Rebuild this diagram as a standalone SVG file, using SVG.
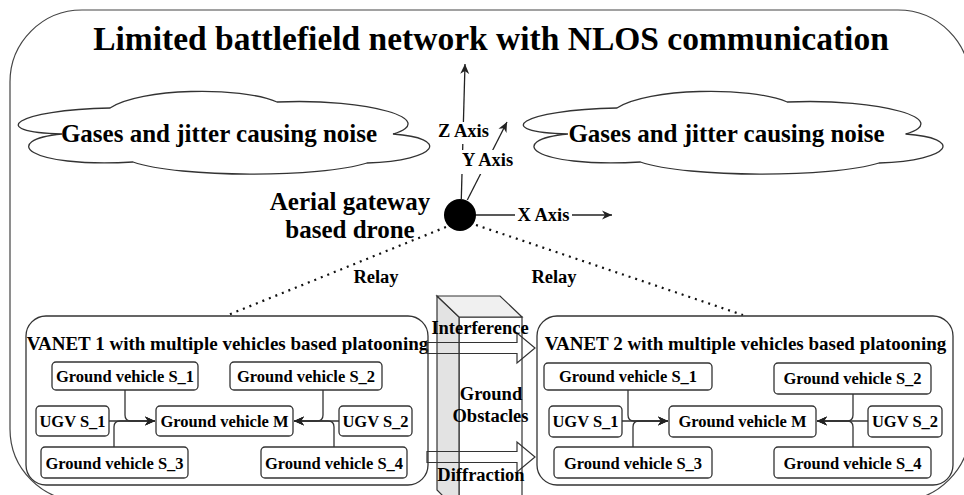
<svg xmlns="http://www.w3.org/2000/svg" width="964" height="495" viewBox="0 0 964 495">
<style>
text{font-family:"Liberation Serif","Times New Roman",serif;font-weight:bold;fill:#000;text-anchor:middle}
.t{font-size:33.5px}
.c{font-size:25px}
.l{font-size:18.5px}
.v{font-size:19px}
.n{font-size:16.5px}
.box{fill:#fff;stroke:#333;stroke-width:1.3}
.vb{fill:#fff;stroke:#333;stroke-width:1.3}
.ln{fill:none;stroke:#333;stroke-width:1.3}
.ax{fill:none;stroke:#222;stroke-width:1.3}
.dot{fill:none;stroke:#111;stroke-width:2.2;stroke-dasharray:2 5}
.bg{fill:#fff}
</style>
<defs>
<marker id="arr" markerUnits="userSpaceOnUse" markerWidth="12" markerHeight="10" refX="10" refY="5" orient="auto">
<path d="M0,0.5 L10,5 L0,9.5 L3,5 Z" fill="#222"/>
</marker>
<path id="cloud" d="M62,134 C-15,132 15,110 110,108 C140,88 240,86 277,102 C370,98 440,120 393,134 C450,138 440,160 367,163 C320,178 180,178 133,162 C25,168 0,140 62,134 Z"/>
</defs>

<g id="frame">
<rect x="10" y="10" width="960" height="491" rx="72" ry="72" fill="#fff" stroke="#444" stroke-width="1.2"/>
</g>

<g id="title"><text class="t" x="491" y="50">Limited battlefield network with NLOS communication</text></g>

<g id="cloud-left">
<use href="#cloud" fill="#fff" stroke="#333" stroke-width="1.3"/>
<text class="c" x="219" y="142">Gases and jitter causing noise</text>
</g>
<g id="cloud-right">
<use href="#cloud" transform="matrix(1.02,0,0,1,504.7,0)" fill="#fff" stroke="#333" stroke-width="1.3"/>
<text class="c" x="726.5" y="142">Gases and jitter causing noise</text>
</g>

<g id="connectors">
<line class="ax" x1="461.3" y1="199" x2="465" y2="64" marker-end="url(#arr)"/>
<line class="ax" x1="467.3" y1="200" x2="507" y2="122" marker-end="url(#arr)"/>
<line class="ax" x1="476" y1="215" x2="612" y2="215" marker-end="url(#arr)"/>
<line class="dot" x1="446" y1="227" x2="228" y2="315"/>
<line class="dot" x1="476" y1="225" x2="743" y2="315"/>
</g>

<g id="axis-labels">
<rect class="bg" x="437" y="122" width="53" height="22"/>
<text class="l" x="463.5" y="137">Z Axis</text>
<rect class="bg" x="460" y="150" width="55" height="24"/>
<text class="l" x="487.5" y="166">Y Axis</text>
<rect class="bg" x="515" y="205" width="57" height="20"/>
<text class="l" x="543.5" y="221">X Axis</text>
</g>

<g id="drone">
<circle cx="460" cy="215" r="16" fill="#000"/>
<text class="c" x="350" y="210">Aerial gateway</text>
<text class="c" x="350" y="238">based drone</text>
</g>

<g id="relay-labels">
<text class="l" x="376" y="283">Relay</text>
<text class="l" x="554" y="283">Relay</text>
</g>

<g id="vanet1">
<rect class="vb" x="26" y="316" width="402" height="169" rx="20"/>
<text class="v" x="227.5" y="350">VANET 1 with multiple vehicles based platooning</text>
</g>
<g id="vanet2">
<rect class="vb" x="537" y="316" width="416" height="169" rx="20"/>
<text class="v" x="745.5" y="350">VANET 2 with multiple vehicles based platooning</text>
</g>

<g id="vanet-connectors">
<path class="ln" d="M125,390 V415 Q125,421 131,421 H155" marker-end="url(#arr)"/>
<path class="ln" d="M109,421 H155" marker-end="url(#arr)"/>
<path class="ln" d="M114,447 V427 Q114,421 120,421 H155" marker-end="url(#arr)"/>
<path class="ln" d="M323,390 V415 Q323,421 317,421 H294" marker-end="url(#arr)"/>
<path class="ln" d="M339,421 H294" marker-end="url(#arr)"/>
<path class="ln" d="M334,447 V427 Q334,421 328,421 H294" marker-end="url(#arr)"/>
<path class="ln" d="M628,390 V415 Q628,421 634,421 H668" marker-end="url(#arr)"/>
<path class="ln" d="M622,421 H668" marker-end="url(#arr)"/>
<path class="ln" d="M633,447 V427 Q633,421 639,421 H668" marker-end="url(#arr)"/>
<path class="ln" d="M853,394 V415 Q853,421 847,421 H817" marker-end="url(#arr)"/>
<path class="ln" d="M868,421 H817" marker-end="url(#arr)"/>
<path class="ln" d="M853,447 V427 Q853,421 847,421 H817" marker-end="url(#arr)"/>
</g>

<g id="v1-gs1"><rect class="box" x="52" y="362" width="146" height="28" rx="4"/><text class="n" x="125" y="382">Ground vehicle S_1</text></g>
<g id="v1-gs2"><rect class="box" x="230" y="362" width="152" height="28" rx="4"/><text class="n" x="306" y="382">Ground vehicle S_2</text></g>
<g id="v1-ugv1"><rect class="box" x="36" y="406" width="73" height="30" rx="4"/><text class="n" x="72.5" y="427">UGV S_1</text></g>
<g id="v1-gm"><rect class="box" x="156" y="406" width="137" height="30" rx="4"/><text class="n" x="224.5" y="427">Ground vehicle M</text></g>
<g id="v1-ugv2"><rect class="box" x="339" y="406" width="73" height="30" rx="4"/><text class="n" x="375.5" y="427">UGV S_2</text></g>
<g id="v1-gs3"><rect class="box" x="41" y="447" width="147" height="31" rx="4"/><text class="n" x="114.5" y="469">Ground vehicle S_3</text></g>
<g id="v1-gs4"><rect class="box" x="261" y="447" width="146" height="31" rx="4"/><text class="n" x="334" y="469">Ground vehicle S_4</text></g>

<g id="v2-gs1"><rect class="box" x="544" y="363" width="168" height="27" rx="4"/><text class="n" x="628" y="382">Ground vehicle S_1</text></g>
<g id="v2-gs2"><rect class="box" x="774" y="363" width="157" height="31" rx="4"/><text class="n" x="852.5" y="384">Ground vehicle S_2</text></g>
<g id="v2-ugv1"><rect class="box" x="549" y="406" width="73" height="31" rx="4"/><text class="n" x="585.5" y="427">UGV S_1</text></g>
<g id="v2-gm"><rect class="box" x="669" y="406" width="147" height="31" rx="4"/><text class="n" x="742.5" y="427">Ground vehicle M</text></g>
<g id="v2-ugv2"><rect class="box" x="868" y="406" width="74" height="31" rx="4"/><text class="n" x="905" y="427">UGV S_2</text></g>
<g id="v2-gs3"><rect class="box" x="554" y="447" width="158" height="31" rx="4"/><text class="n" x="633" y="469">Ground vehicle S_3</text></g>
<g id="v2-gs4"><rect class="box" x="774" y="447" width="157" height="31" rx="4"/><text class="n" x="852.5" y="469">Ground vehicle S_4</text></g>

<g id="obstacle">
<rect x="459" y="317" width="63" height="195" fill="#fff" stroke="#333" stroke-width="1.2"/>
<polygon points="437,296 459,317 459,512 437,490" fill="#e3e3e3" stroke="#333" stroke-width="1.2"/>
<polygon points="437,296 500,296 522,317 459,317" fill="#f0f0f0" stroke="#333" stroke-width="1.2"/>
<text class="l" x="491" y="400">Ground</text>
<text class="l" x="490.5" y="422">Obstacles</text>
</g>

<g id="interference">
<path d="M427,342.5 H517 V333 L535,348 L517,363 V353.5 H427 Z" fill="none" stroke="#333" stroke-width="1.2"/>
<text class="l" x="480" y="334">Interference</text>
</g>
<g id="diffraction">
<path d="M427,451.5 H517 V442 L535,457 L517,472 V462.5 H427 Z" fill="none" stroke="#333" stroke-width="1.2"/>
<text class="l" x="481" y="481">Diffraction</text>
</g>
</svg>
